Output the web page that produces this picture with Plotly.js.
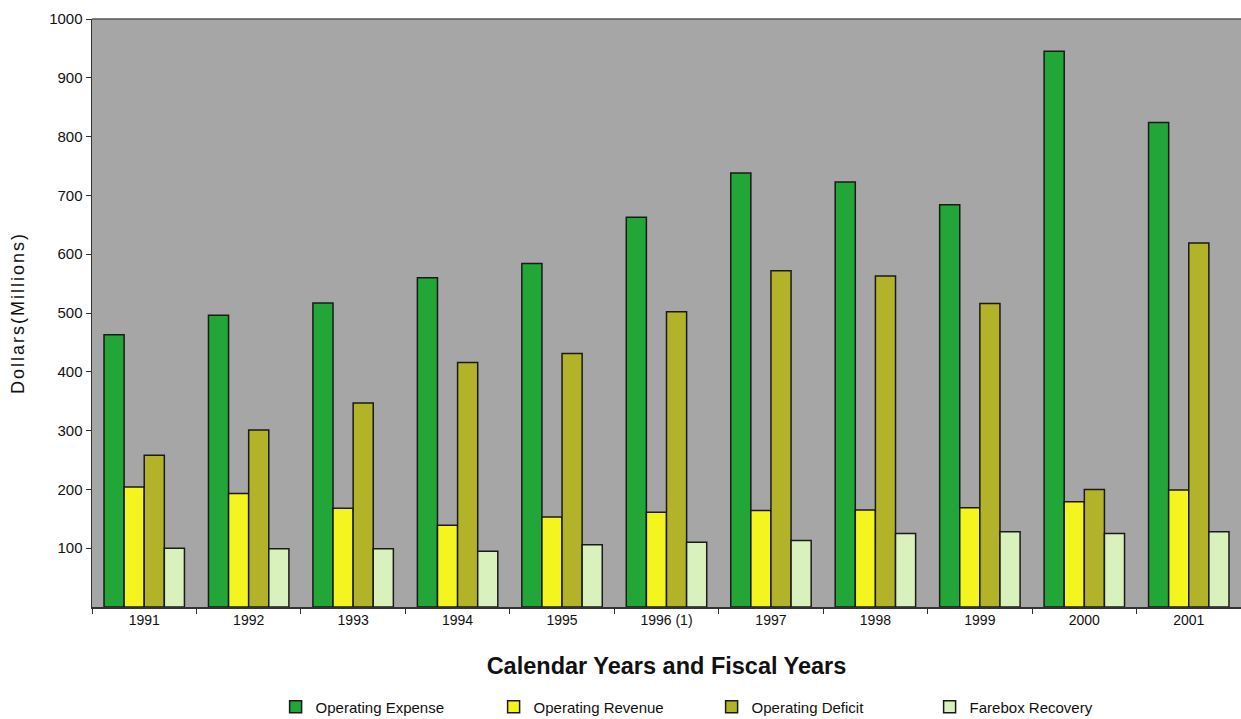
<!DOCTYPE html>
<html>
<head>
<meta charset="utf-8">
<script src="https://cdn.plot.ly/plotly-3.0.1.min.js"></script>
<style>html,body{margin:0;padding:0;background:#fff;}#chart{width:1241px;height:719px;}
.ytitle{letter-spacing:2px;}
</style>
</head>
<body>
<div id="chart"></div>
<script>
const years = ["1991","1992","1993","1994","1995","1996 (1)","1997","1998","1999","2000","2001"];
const operatingExpense = [463, 496, 517, 560, 584, 663, 738, 723, 684, 945, 824];
const operatingRevenue = [204, 193, 168, 139, 153, 161, 164, 165, 169, 179, 199];
const operatingDeficit = [258, 301, 347, 416, 431, 502, 572, 563, 516, 200, 619];
const fareboxRecovery  = [100, 99, 99, 95, 106, 110, 113, 125, 128, 125, 128];
const yTicks = [100,200,300,400,500,600,700,800,900,1000];

const seriesNames = ["Operating Expense","Operating Revenue","Operating Deficit","Farebox Recovery"];
const seriesColors = ["#21a637","#f4f41e","#b3b32a","#d9f2bd"];
const seriesData = [operatingExpense, operatingRevenue, operatingDeficit, fareboxRecovery];

const traces = seriesData.map((vals, i) => ({
  type: "bar",
  name: seriesNames[i],
  x: years,
  y: vals,
  marker: {color: seriesColors[i], line: {color: "#1a1a1a", width: 1.5}},
  hoverinfo: "x+y+name"
}));

const layout = {
  width: 1241, height: 719,
  margin: {l: 92, r: 0, t: 19, b: 112, pad: 0, autoexpand: false},
  paper_bgcolor: "#ffffff",
  plot_bgcolor: "#a6a6a6",
  barmode: "group",
  bargap: 0.23,
  bargroupgap: 0,
  font: {family: "Liberation Sans, Arial, sans-serif", color: "#111"},
  xaxis: {
    type: "category",
    showgrid: false,
    showline: true, linecolor: "#333", linewidth: 1.5,
    mirror: false,
    ticks: "outside", tickson: "boundaries", ticklen: 5, tickcolor: "#333",
    tickfont: {size: 14, color: "#111"},
    title: {text: "<b>Calendar Years and Fiscal Years</b>", font: {size: 23.5, color: "#111"}, standoff: 30},
    automargin: false,
    fixedrange: true
  },
  yaxis: {
    range: [0, 1000],
    tickvals: yTicks,
    ticktext: yTicks.map(String),
    showgrid: false, zeroline: false,
    showline: true, linecolor: "#333", linewidth: 1.5,
    ticks: "outside", ticklen: 5, tickcolor: "#333",
    tickfont: {size: 15, color: "#111"},
    title: {text: "Dollars(Millions)", font: {size: 18, color: "#111"}, standoff: 20},
    automargin: false,
    fixedrange: true
  },
  shapes: [{type: "line", xref: "paper", yref: "paper", x0: 0, x1: 1, y0: 1, y1: 1, line: {color: "#555", width: 1.5}}],
  showlegend: true,
  legend: {
    orientation: "h",
    x: 0.1598, xanchor: "left",
    y: -0.17, yanchor: "middle",
    entrywidth: 173, entrywidthmode: "pixels",
    itemwidth: 30,
    font: {size: 15, color: "#111"},
    bgcolor: "rgba(0,0,0,0)",
    traceorder: "normal"
  }
};

Plotly.newPlot("chart", traces, layout, {displayModeBar: false, staticPlot: true});
</script>
</body>
</html>
